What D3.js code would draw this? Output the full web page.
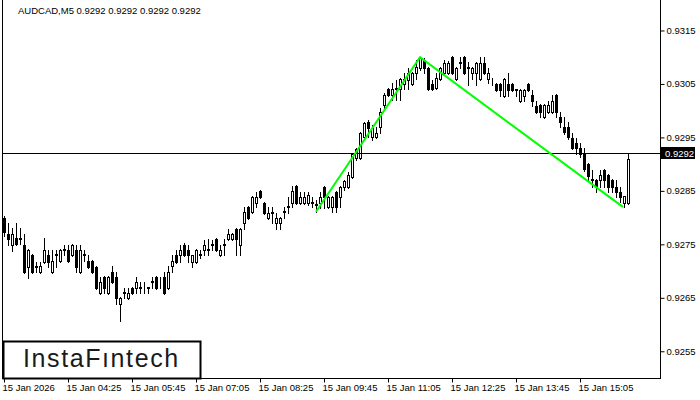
<!DOCTYPE html>
<html>
<head>
<meta charset="utf-8">
<script src="https://cdn.jsdelivr.net/npm/d3@7"></script>
<style>
  body { margin: 0; background: #fff; }
  svg { display: block; }
  text { font-family: "Liberation Sans", Arial, sans-serif; }
</style>
</head>
<body>
<div id="chart"></div>
<script>
// AUDCAD M5, 157 bars from 15 Jan 03:05
const opens = [
  0.92800, 0.92770, 0.92749, 0.92762, 0.92762, 0.92749, 0.92708, 0.92730, 0.92708, 0.92699,
  0.92717, 0.92730, 0.92699, 0.92730, 0.92719, 0.92740, 0.92740, 0.92730, 0.92740, 0.92699,
  0.92730, 0.92719, 0.92719, 0.92708, 0.92659, 0.92689, 0.92659, 0.92699, 0.92689, 0.92639,
  0.92659, 0.92650, 0.92669, 0.92669, 0.92669, 0.92669, 0.92669, 0.92680, 0.92689, 0.92680,
  0.92689, 0.92669, 0.92710, 0.92730, 0.92730, 0.92749, 0.92740, 0.92717, 0.92717, 0.92730,
  0.92740, 0.92740, 0.92749, 0.92760, 0.92730, 0.92749, 0.92760, 0.92760, 0.92779, 0.92749,
  0.92790, 0.92820, 0.92811, 0.92828, 0.92850, 0.92828, 0.92800, 0.92809, 0.92790, 0.92790,
  0.92811, 0.92820, 0.92828, 0.92859, 0.92828, 0.92828, 0.92828, 0.92828, 0.92824, 0.92828,
  0.92857, 0.92820, 0.92820, 0.92848, 0.92839, 0.92857, 0.92857, 0.92876, 0.92912, 0.92912,
  0.92951, 0.92979, 0.92951, 0.92951, 0.92970, 0.93011, 0.93041, 0.93029, 0.93041, 0.93041,
  0.93050, 0.93057, 0.93050, 0.93071, 0.93080, 0.93095, 0.93080, 0.93050, 0.93043, 0.93059,
  0.93071, 0.93071, 0.93100, 0.93059, 0.93091, 0.93100, 0.93080, 0.93071, 0.93071, 0.93059,
  0.93089, 0.93059, 0.93059, 0.93050, 0.93050, 0.93028, 0.93050, 0.93050, 0.93039, 0.93018,
  0.93028, 0.93050, 0.93029, 0.93009, 0.93011, 0.92988, 0.92998, 0.92998, 0.93029, 0.92988,
  0.92970, 0.92970, 0.92949, 0.92940, 0.92930, 0.92919, 0.92900, 0.92871, 0.92871, 0.92871,
  0.92889, 0.92880, 0.92871, 0.92857, 0.92848, 0.92828, 0.92828
];
const highs = [
  0.92803, 0.92790, 0.92781, 0.92790, 0.92781, 0.92770, 0.92742, 0.92732, 0.92717, 0.92717,
  0.92762, 0.92740, 0.92740, 0.92740, 0.92742, 0.92749, 0.92749, 0.92751, 0.92749, 0.92749,
  0.92740, 0.92730, 0.92721, 0.92710, 0.92689, 0.92691, 0.92691, 0.92710, 0.92699, 0.92652,
  0.92669, 0.92669, 0.92671, 0.92689, 0.92680, 0.92680, 0.92671, 0.92689, 0.92691, 0.92689,
  0.92699, 0.92710, 0.92730, 0.92740, 0.92749, 0.92753, 0.92749, 0.92730, 0.92742, 0.92740,
  0.92758, 0.92760, 0.92758, 0.92762, 0.92749, 0.92760, 0.92779, 0.92772, 0.92781, 0.92781,
  0.92820, 0.92822, 0.92841, 0.92848, 0.92852, 0.92830, 0.92820, 0.92820, 0.92809, 0.92802,
  0.92820, 0.92839, 0.92859, 0.92861, 0.92848, 0.92848, 0.92848, 0.92839, 0.92833, 0.92848,
  0.92859, 0.92841, 0.92841, 0.92850, 0.92859, 0.92871, 0.92886, 0.92921, 0.92930, 0.92960,
  0.92979, 0.92983, 0.92973, 0.92970, 0.93005, 0.93033, 0.93043, 0.93052, 0.93057, 0.93061,
  0.93071, 0.93080, 0.93073, 0.93095, 0.93100, 0.93098, 0.93082, 0.93057, 0.93071, 0.93082,
  0.93095, 0.93093, 0.93102, 0.93082, 0.93100, 0.93102, 0.93091, 0.93082, 0.93091, 0.93100,
  0.93100, 0.93080, 0.93061, 0.93052, 0.93052, 0.93061, 0.93071, 0.93052, 0.93041, 0.93041,
  0.93041, 0.93052, 0.93039, 0.93018, 0.93013, 0.93013, 0.93018, 0.93029, 0.93031, 0.92998,
  0.92988, 0.92979, 0.92958, 0.92949, 0.92940, 0.92930, 0.92902, 0.92889, 0.92873, 0.92889,
  0.92891, 0.92882, 0.92873, 0.92871, 0.92857, 0.92841, 0.92920
];
const lows = [
  0.92766, 0.92749, 0.92738, 0.92749, 0.92751, 0.92697, 0.92687, 0.92697, 0.92699, 0.92697,
  0.92715, 0.92708, 0.92697, 0.92708, 0.92717, 0.92730, 0.92717, 0.92728, 0.92699, 0.92697,
  0.92719, 0.92706, 0.92697, 0.92667, 0.92657, 0.92659, 0.92657, 0.92678, 0.92639, 0.92607,
  0.92650, 0.92648, 0.92657, 0.92659, 0.92659, 0.92659, 0.92659, 0.92669, 0.92667, 0.92669,
  0.92657, 0.92667, 0.92699, 0.92715, 0.92717, 0.92728, 0.92717, 0.92708, 0.92715, 0.92725,
  0.92730, 0.92730, 0.92740, 0.92738, 0.92728, 0.92730, 0.92758, 0.92758, 0.92730, 0.92730,
  0.92779, 0.92798, 0.92809, 0.92820, 0.92837, 0.92807, 0.92798, 0.92790, 0.92779, 0.92779,
  0.92800, 0.92809, 0.92820, 0.92826, 0.92826, 0.92826, 0.92824, 0.92820, 0.92811, 0.92818,
  0.92818, 0.92818, 0.92811, 0.92811, 0.92820, 0.92852, 0.92855, 0.92874, 0.92908, 0.92910,
  0.92949, 0.92951, 0.92945, 0.92949, 0.92958, 0.93005, 0.93028, 0.93020, 0.93020, 0.93020,
  0.93041, 0.93041, 0.93048, 0.93059, 0.93076, 0.93071, 0.93039, 0.93039, 0.93041, 0.93057,
  0.93069, 0.93069, 0.93069, 0.93057, 0.93080, 0.93069, 0.93048, 0.93059, 0.93048, 0.93057,
  0.93069, 0.93052, 0.93048, 0.93037, 0.93028, 0.93026, 0.93028, 0.93037, 0.93028, 0.93016,
  0.93018, 0.93037, 0.93009, 0.92996, 0.92988, 0.92986, 0.92996, 0.92996, 0.92988, 0.92970,
  0.92956, 0.92947, 0.92928, 0.92919, 0.92914, 0.92887, 0.92871, 0.92857, 0.92848, 0.92857,
  0.92857, 0.92848, 0.92848, 0.92839, 0.92829, 0.92820, 0.92826
];
const closes = [
  0.92773, 0.92760, 0.92770, 0.92751, 0.92760, 0.92699, 0.92740, 0.92699, 0.92710, 0.92710,
  0.92740, 0.92717, 0.92719, 0.92731, 0.92740, 0.92741, 0.92719, 0.92749, 0.92708, 0.92740,
  0.92731, 0.92708, 0.92699, 0.92669, 0.92680, 0.92669, 0.92689, 0.92680, 0.92650, 0.92650,
  0.92660, 0.92659, 0.92659, 0.92680, 0.92670, 0.92668, 0.92670, 0.92681, 0.92669, 0.92679,
  0.92659, 0.92699, 0.92719, 0.92717, 0.92740, 0.92730, 0.92730, 0.92730, 0.92740, 0.92731,
  0.92749, 0.92741, 0.92750, 0.92740, 0.92740, 0.92750, 0.92770, 0.92770, 0.92760, 0.92779,
  0.92811, 0.92800, 0.92839, 0.92839, 0.92839, 0.92809, 0.92809, 0.92810, 0.92800, 0.92800,
  0.92812, 0.92821, 0.92850, 0.92828, 0.92839, 0.92838, 0.92843, 0.92829, 0.92825, 0.92839,
  0.92839, 0.92839, 0.92839, 0.92820, 0.92857, 0.92869, 0.92880, 0.92919, 0.92928, 0.92958,
  0.92977, 0.92968, 0.92968, 0.92958, 0.92998, 0.93029, 0.93029, 0.93041, 0.93042, 0.93059,
  0.93059, 0.93071, 0.93071, 0.93082, 0.93099, 0.93080, 0.93041, 0.93041, 0.93061, 0.93080,
  0.93089, 0.93089, 0.93071, 0.93080, 0.93090, 0.93071, 0.93081, 0.93080, 0.93089, 0.93089,
  0.93071, 0.93071, 0.93060, 0.93039, 0.93039, 0.93059, 0.93039, 0.93039, 0.93040, 0.93039,
  0.93039, 0.93039, 0.93018, 0.92998, 0.92998, 0.93011, 0.93011, 0.93018, 0.92998, 0.92979,
  0.92960, 0.92951, 0.92930, 0.92930, 0.92919, 0.92891, 0.92878, 0.92872, 0.92857, 0.92880,
  0.92871, 0.92857, 0.92857, 0.92848, 0.92839, 0.92841, 0.92910
];

// double top pattern line: bar index -> price
const patternBars = [78, 104, 154.7];
const patternPrices = [0.92811, 0.93100, 0.92820];

const bidPrice = 0.9292;
const title = "AUDCAD,M5  0.9292 0.9292 0.9292 0.9292";

const priceTicks = [0.9255, 0.9265, 0.9275, 0.9285, 0.9295, 0.9305, 0.9315];
const timeTickBars = [0, 16, 32, 48, 64, 80, 96, 112, 128, 144];
const timeTickLabels = ["15 Jan 2026", "15 Jan 04:25", "15 Jan 05:45", "15 Jan 07:05", "15 Jan 08:25",
  "15 Jan 09:45", "15 Jan 11:05", "15 Jan 12:25", "15 Jan 13:45", "15 Jan 15:05"];

const width = 700, height = 400;
const plotRight = 660, plotBottom = 378;

const svg = d3.select("#chart").append("svg")
  .attr("width", width)
  .attr("height", height);

const x = d3.scaleLinear().domain([0, 164]).range([4, 660]);
const y = d3.scaleLinear().domain([0.9250, 0.93207]).range([plotBottom, 0]);

// frame
svg.append("path")
  .attr("d", `M2.5,0 V${plotBottom + 0.5} H${plotRight + 0.5} V0`)
  .attr("fill", "none")
  .attr("stroke", "#000")
  .attr("stroke-width", 1)
  .attr("shape-rendering", "crispEdges");

// right price axis
const yAxis = d3.axisRight(y)
  .tickValues(priceTicks)
  .tickSize(4)
  .tickPadding(2)
  .tickFormat(d3.format(".4f"));

svg.append("g")
  .attr("transform", `translate(${plotRight + 0.5},0)`)
  .call(yAxis)
  .call(g => g.select(".domain").remove())
  .call(g => g.selectAll("text").attr("font-size", 9.5).attr("fill", "#000")
    .attr("font-family", "Liberation Sans, Arial, sans-serif"));

// bottom time axis
const xAxis = d3.axisBottom(x)
  .tickValues(timeTickBars)
  .tickSize(4)
  .tickPadding(2)
  .tickFormat((d, i) => timeTickLabels[i]);

svg.append("g")
  .attr("transform", `translate(0,${plotBottom + 0.5})`)
  .call(xAxis)
  .call(g => g.select(".domain").remove())
  .call(g => g.selectAll("text")
    .attr("text-anchor", "start")
    .attr("dx", -2)
    .attr("font-size", 9.5)
    .attr("fill", "#000")
    .attr("font-family", "Liberation Sans, Arial, sans-serif"));

// candles
const bars = d3.range(opens.length).map(i => ({
  i, o: opens[i], h: highs[i], l: lows[i], c: closes[i]
}));

const plot = svg.append("g").attr("shape-rendering", "crispEdges");

plot.selectAll(".wick")
  .data(bars)
  .join("line")
  .attr("class", "wick")
  .attr("x1", d => Math.round(x(d.i)) + 0.5)
  .attr("x2", d => Math.round(x(d.i)) + 0.5)
  .attr("y1", d => Math.round(y(d.h)))
  .attr("y2", d => Math.round(y(d.l)) + 1)
  .attr("stroke", "#000");

plot.selectAll(".body")
  .data(bars)
  .join("rect")
  .attr("class", "body")
  .attr("x", d => Math.round(x(d.i)) - 0.5)
  .attr("y", d => Math.round(y(Math.max(d.o, d.c))) + 0.5)
  .attr("width", 2)
  .attr("height", d => Math.max(0, Math.round(y(Math.min(d.o, d.c))) - Math.round(y(Math.max(d.o, d.c)))))
  .attr("fill", d => d.c >= d.o ? "#fff" : "#000")
  .attr("stroke", "#000");

// bid line
svg.append("line")
  .attr("x1", 2).attr("x2", plotRight)
  .attr("y1", Math.round(y(bidPrice)) + 0.5)
  .attr("y2", Math.round(y(bidPrice)) + 0.5)
  .attr("stroke", "#000")
  .attr("shape-rendering", "crispEdges");

svg.append("rect")
  .attr("x", plotRight + 1)
  .attr("y", Math.round(y(bidPrice)) - 6)
  .attr("width", 34)
  .attr("height", 12)
  .attr("fill", "#000");

svg.append("text")
  .attr("x", plotRight + 5)
  .attr("y", Math.round(y(bidPrice)) + 4)
  .attr("font-size", 9.5)
  .attr("fill", "#fff")
  .text(d3.format(".4f")(bidPrice));

// pattern line
svg.append("path")
  .datum(patternBars.map((b, k) => [b, patternPrices[k]]))
  .attr("d", d3.line().x(d => x(d[0])).y(d => y(d[1])))
  .attr("fill", "none")
  .attr("stroke", "#00ff00")
  .attr("stroke-width", 2);

// title
svg.append("text")
  .attr("x", 18)
  .attr("y", 14)
  .attr("font-size", 9.5)
  .attr("fill", "#000")
  .text(title);

// logo
svg.append("rect")
  .attr("x", 3.5).attr("y", 341.5)
  .attr("width", 197).attr("height", 37)
  .attr("fill", "#fff")
  .attr("stroke", "#000")
  .attr("stroke-width", 2);

svg.append("text")
  .attr("x", 23)
  .attr("y", 367)
  .attr("font-family", "Inter, 'Noto Sans', sans-serif")
  .attr("font-weight", 500)
  .attr("font-size", 25)
  .attr("letter-spacing", 1.6)
  .attr("fill", "#1a1a1a")
  .text("InstaF\u0131ntech");
</script>
</body>
</html>
